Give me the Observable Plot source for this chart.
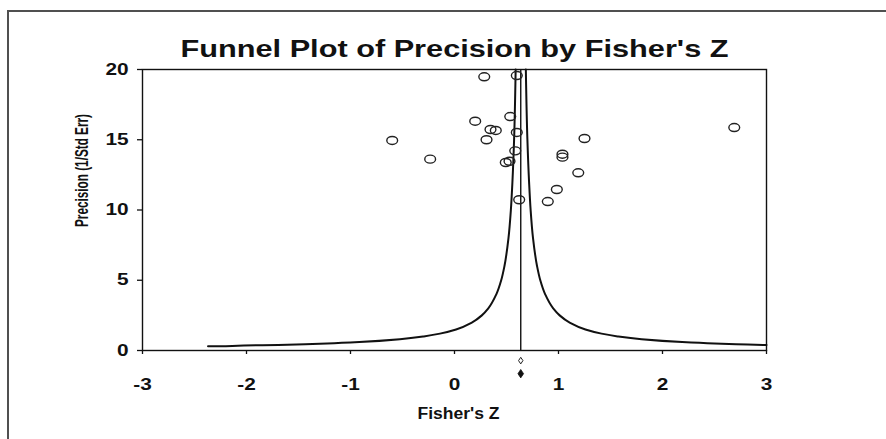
<!DOCTYPE html>
<html>
<head>
<meta charset="utf-8">
<script src="https://cdn.jsdelivr.net/npm/d3@7"></script>
<script src="https://cdn.jsdelivr.net/npm/@observablehq/plot@0.6"></script>
<style>
  html, body { margin: 0; padding: 0; background: #fff; }
  #wrap { position: relative; width: 886px; height: 439px; overflow: hidden; }
  #border { position: absolute; left: 7px; top: 10px; right: -4px; bottom: -4px;
            border-top: 2px solid #505050; border-left: 2px solid #505050; }
  #wrap svg { position: absolute; left: 0; top: 0; }
</style>
</head>
<body>
<div id="wrap"><div id="border"></div></div>
<script>
// ---- data ----
const titleText = "Funnel Plot of Precision by Fisher's Z";
const xLabel = "Fisher's Z";
const yLabel = "Precision (1/Std Err)";
const xTicks = [-3, -2, -1, 0, 1, 2, 3];
const yTicks = [0, 5, 10, 15, 20];

// individual studies: Fisher's Z and precision
const studyZ = [0.286, 0.599, 0.199, 0.536, 0.346, 0.397, 0.599, 0.308, 1.25, 2.69, 0.584,
                1.038, 1.038, 0.493, 0.529, 1.19, 0.984, 0.622, 0.897, -0.599, -0.234];
const studyPrecision = [19.48, 19.57, 16.32, 16.65, 15.73, 15.66, 15.52, 15.0, 15.09, 15.87, 14.21,
                        13.97, 13.76, 13.38, 13.47, 12.65, 11.46, 10.73, 10.6, 14.95, 13.62];

// combined estimate
const centerZ = 0.637;

// funnel boundaries
const funnelLeftPrec = [20, 15, 12, 10, 8, 6, 5, 4, 3, 2.5, 2, 1.5, 1.2, 1, 0.8, 0.6, 0.5, 0.45, 0.4, 0.35, 0.31, 0.30];
const funnelLeftZ = [0.588, 0.573, 0.557, 0.542, 0.519, 0.48, 0.449, 0.402, 0.325, 0.263, 0.17, 0.015, -0.14, -0.295, -0.525, -0.915, -1.225, -1.435, -1.695, -2.025, -2.20, -2.37];
const funnelRightPrec = [20, 15, 12, 10, 8, 6, 5, 4, 3, 2.5, 2, 1.5, 1.2, 1, 0.8, 0.6, 0.5, 0.45, 0.4, 0.39];
const funnelRightZ = [0.686, 0.701, 0.717, 0.732, 0.755, 0.794, 0.825, 0.872, 0.949, 1.011, 1.104, 1.259, 1.414, 1.569, 1.799, 2.189, 2.499, 2.709, 2.969, 3.0];

// summary diamonds below the axis (open, filled)
const summaryZ = [centerZ, centerZ];
const summaryRow = [-0.72, -1.65];
const summaryFilled = [false, true];

// ---- build tables ----
const studies = studyZ.map((z, i) => ({z, p: studyPrecision[i]}));
const leftLine = funnelLeftZ.map((z, i) => ({z, p: funnelLeftPrec[i]}));
const rightLine = funnelRightZ.map((z, i) => ({z, p: funnelRightPrec[i]}));
const summary = summaryZ.map((z, i) => ({z, p: summaryRow[i], filled: summaryFilled[i]}));

const ellipse = {
  draw(ctx) {
    const rx = 5.4, ry = 4, k = 0.5523;
    ctx.moveTo(rx, 0);
    ctx.bezierCurveTo(rx, ry * k, rx * k, ry, 0, ry);
    ctx.bezierCurveTo(-rx * k, ry, -rx, ry * k, -rx, 0);
    ctx.bezierCurveTo(-rx, -ry * k, -rx * k, -ry, 0, -ry);
    ctx.bezierCurveTo(rx * k, -ry, rx, -ry * k, rx, 0);
    ctx.closePath();
  }
};
const rhombus = (hw, hh) => ({
  draw(ctx) {
    ctx.moveTo(0, -hh); ctx.lineTo(hw, 0); ctx.lineTo(0, hh); ctx.lineTo(-hw, 0); ctx.closePath();
  }
});

const chart = Plot.plot({
  width: 886,
  height: 439,
  marginLeft: 142,
  marginRight: 120,
  marginTop: 69,
  marginBottom: 89,
  x: {domain: [-3, 3]},
  y: {domain: [0, 20]},
  style: {fontFamily: "'Liberation Sans', Arial, sans-serif", fontWeight: "bold", color: "#111", background: "transparent"},
  marks: [
    Plot.frame({stroke: "#111", strokeWidth: 1.4}),
    Plot.axisX({ticks: xTicks, tickSize: 4, tickPadding: 24, tickFormat: d => String(d), fontSize: 16, label: null, strokeWidth: 1.3}),
    Plot.axisY({ticks: yTicks, tickSize: 5, tickPadding: 9, tickFormat: d => String(d), fontSize: 16, label: null, strokeWidth: 1.3}),
    Plot.line(leftLine, {x: "z", y: "p", stroke: "#111", strokeWidth: 2, curve: "monotone-y"}),
    Plot.line(rightLine, {x: "z", y: "p", stroke: "#111", strokeWidth: 2, curve: "monotone-y"}),
    Plot.ruleX([centerZ], {y1: 0, y2: 20, stroke: "#111", strokeWidth: 1.4}),
    Plot.dot(studies, {x: "z", y: "p", symbol: ellipse, stroke: "#222", strokeWidth: 1.4, fill: "white", fillOpacity: 0}),
    Plot.dot(summary.filter(d => !d.filled), {x: "z", y: "p", symbol: rhombus(2.2, 3.3), stroke: "#222", strokeWidth: 1, fill: "white"}),
    Plot.dot(summary.filter(d => d.filled), {x: "z", y: "p", symbol: rhombus(2.8, 4.2), stroke: "#111", strokeWidth: 0.8, fill: "#111"}),
    Plot.text([titleText], {text: d => d, frameAnchor: "top", dy: -29, fontSize: 23, fontWeight: "bold", fill: "#111"}),
    Plot.text([xLabel], {text: d => d, frameAnchor: "bottom", dy: 68, dx: 4, fontSize: 16, fontWeight: "bold", fill: "#111"}),
    Plot.text([yLabel], {text: d => d, frameAnchor: "left", dx: -60, dy: 17, rotate: -90, fontSize: 18, fontWeight: "bold", fill: "#111"})
  ]
});

document.getElementById("wrap").appendChild(chart);

// horizontal stretch of the original rendering
const sx = 1.3;
chart.querySelectorAll("text").forEach(t => {
  const s = t.textContent;
  let len;
  if (s === titleText) len = 548;
  else if (s === yLabel) len = 113;
  else if (s === xLabel) len = 82;
  else len = t.getComputedTextLength() * sx;
  t.setAttribute("textLength", len);
  t.setAttribute("lengthAdjust", "spacingAndGlyphs");
});
</script>
</body>
</html>
